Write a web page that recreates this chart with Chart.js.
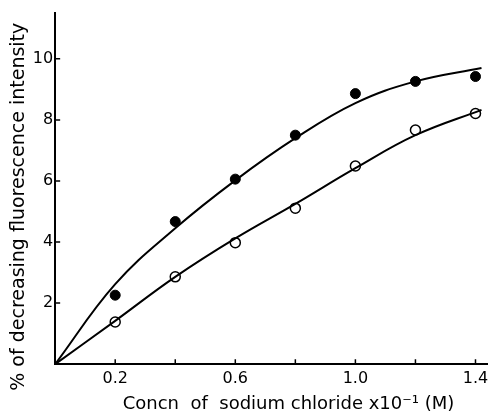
<!DOCTYPE html>
<html>
<head>
<meta charset="utf-8">
<script src="https://cdn.jsdelivr.net/npm/chart.js@4.4.1/dist/chart.umd.min.js"></script>
<style>
  html, body { margin: 0; padding: 0; background: #fff; }
  #wrap { width: 494px; height: 415px; }
</style>
</head>
<body>
<div id="wrap"><canvas id="NaClChart"></canvas></div>
<script>
// NaCl concentration vs. decrease of fluorescence

const concn = [0.2, 0.4, 0.6, 0.8, 1.0, 1.2, 1.4];
const filledPts = [2.26, 4.67, 6.06, 7.5, 8.86, 9.26, 9.42];
const openPts = [1.38, 2.86, 3.98, 5.11, 6.49, 7.67, 8.21];

// hand drawn fit curves
const curveX = [0, 0.2, 0.4, 0.6, 0.8, 1.0, 1.2, 1.42];
const filledCurve = [0, 2.62, 4.45, 6.02, 7.4, 8.55, 9.26, 9.7];
const openCurve = [0, 1.42, 2.86, 4.12, 5.25, 6.42, 7.5, 8.33];

const xTickValues = [0.2, 0.4, 0.6, 0.8, 1.0, 1.2, 1.4];
const xTickLabels = ['0.2', '', '0.6', '', '1.0', '', '1.4'];
const yTickValues = [2, 4, 6, 8, 10];

const pts = (xs, ys) => xs.map((x, i) => ({ x: x, y: ys[i] }));

// small tick marks pointing into the plot
const innerTicks = {
    id: 'innerTicks',
    afterDraw(chart) {
        const { ctx, scales: { x, y } } = chart;
        ctx.save();
        ctx.strokeStyle = '#000';
        ctx.lineWidth = 1.5;
        ctx.beginPath();
        xTickValues.forEach(v => {
            const px = x.getPixelForValue(v);
            ctx.moveTo(px, x.top);
            ctx.lineTo(px, x.top - 5);
        });
        yTickValues.forEach(v => {
            const py = y.getPixelForValue(v);
            ctx.moveTo(y.right, py);
            ctx.lineTo(y.right + 5, py);
        });
        ctx.stroke();
        ctx.restore();
    }
};

new Chart(document.getElementById('NaClChart'), {
    type: 'scatter',
    data: {
        datasets: [{
            label: 'filled fit',
            data: pts(curveX, filledCurve),
            showLine: true,
            borderColor: '#000',
            borderWidth: 2,
            pointRadius: 0,
            tension: 0.4
        }, {
            label: 'open fit',
            data: pts(curveX, openCurve),
            showLine: true,
            borderColor: '#000',
            borderWidth: 2,
            pointRadius: 0,
            tension: 0.4
        }, {
            label: 'filled',
            data: pts(concn, filledPts),
            pointRadius: 5,
            pointBackgroundColor: '#000',
            pointBorderColor: '#000',
            pointBorderWidth: 1
        }, {
            label: 'open',
            data: pts(concn, openPts),
            pointRadius: 5,
            pointBackgroundColor: '#fff',
            pointBorderColor: '#000',
            pointBorderWidth: 1.5
        }]
    },
    options: {
        responsive: true,
        maintainAspectRatio: false,
        animation: false,
        layout: { padding: { top: 13, right: 4, bottom: 0, left: 8 } },
        plugins: {
            legend: { display: false },
            tooltip: { enabled: false }
        },
        scales: {
            x: {
                type: 'linear',
                min: 0,
                max: 1.44,
                afterBuildTicks: axis => { axis.ticks = xTickValues.map(v => ({ value: v })); },
                ticks: {
                    color: '#000',
                    font: { family: 'DejaVu Sans', size: 16 },
                    padding: 5,
                    maxRotation: 0,
                    autoSkip: false,
                    callback: (v, i) => xTickLabels[i]
                },
                grid: { drawOnChartArea: false, drawTicks: false },
                border: { color: '#000', width: 2 },
                title: {
                    display: true,
                    text: '      Concn  of  sodium chloride x10⁻¹ (M)',
                    color: '#000',
                    font: { family: 'DejaVu Sans', size: 18 },
                    padding: { top: 0, bottom: 0 }
                }
            },
            y: {
                min: 0,
                max: 11.5,
                afterBuildTicks: axis => { axis.ticks = yTickValues.map(v => ({ value: v })); },
                ticks: {
                    color: '#000',
                    font: { family: 'DejaVu Sans', size: 16 },
                    padding: 2
                },
                grid: { drawOnChartArea: false, drawTicks: false },
                border: { color: '#000', width: 2 },
                title: {
                    display: true,
                    text: '% of decreasing fluorescence intensity      ',
                    color: '#000',
                    font: { family: 'DejaVu Sans', size: 19 },
                    padding: { top: 0, bottom: 0 }
                }
            }
        }
    },
    plugins: [innerTicks]
});
</script>
</body>
</html>
